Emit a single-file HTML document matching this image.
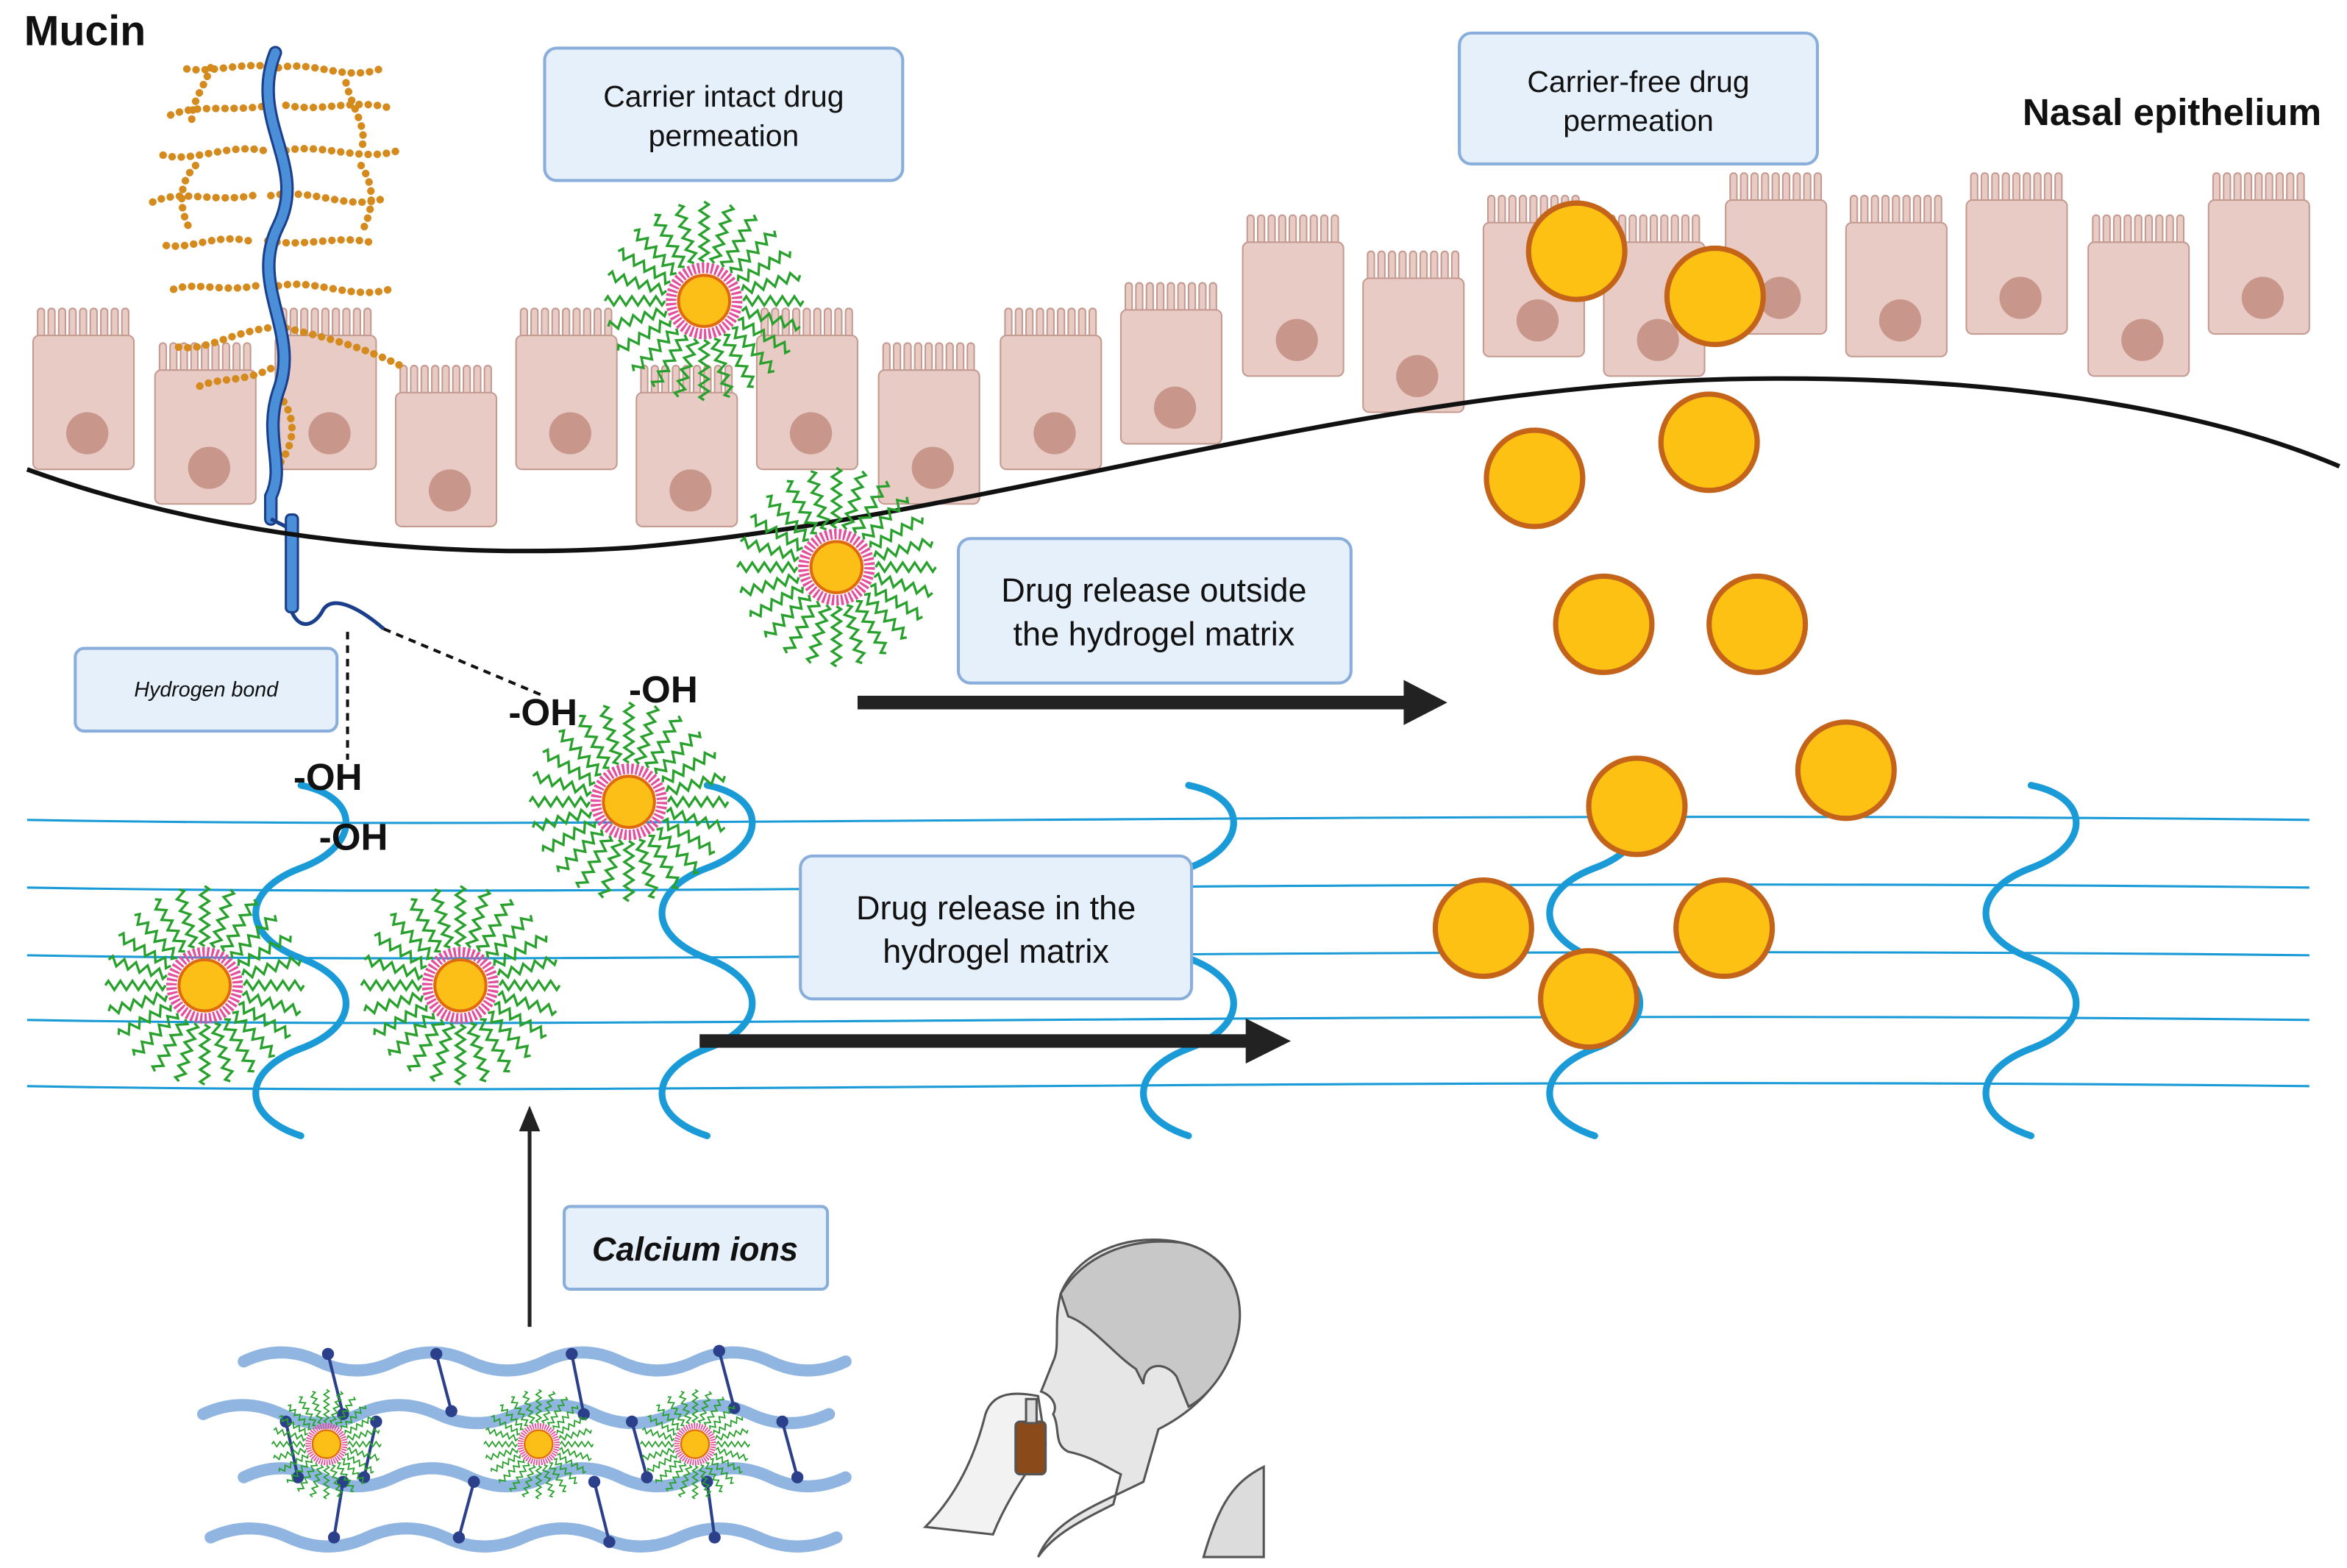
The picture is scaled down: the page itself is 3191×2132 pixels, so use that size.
<!DOCTYPE html>
<html><head><meta charset="utf-8"><style>
html,body{margin:0;padding:0;background:#fff}
svg{display:block}
text{font-family:"Liberation Sans",sans-serif}
</style></head><body>
<svg width="3191" height="2132" viewBox="0 0 1560 1042.3" xmlns="http://www.w3.org/2000/svg">
<defs>
<g id="cell">
 <g fill="#e8cbc4" stroke="#c49a90" stroke-width="1">
  <rect x="3" y="0" width="4.5" height="24" rx="2.2"/><rect x="10" y="0" width="4.5" height="24" rx="2.2"/><rect x="17" y="0" width="4.5" height="24" rx="2.2"/><rect x="24" y="0" width="4.5" height="24" rx="2.2"/><rect x="31" y="0" width="4.5" height="24" rx="2.2"/><rect x="38" y="0" width="4.5" height="24" rx="2.2"/><rect x="45" y="0" width="4.5" height="24" rx="2.2"/><rect x="52" y="0" width="4.5" height="24" rx="2.2"/><rect x="59" y="0" width="4.5" height="24" rx="2.2"/>
  <rect x="0" y="18" width="67" height="89" rx="4"/>
 </g>
 <circle cx="36" cy="83" r="14" fill="#c8968a"/>
</g>
<path id="spk" d="M26,0 l2,-3 l4,6 l4,-6 l4,6 l4,-6 l4,6 l4,-6 l4,6 l4,-6 l4,6 l2,-3" fill="none" stroke="#28a12c" stroke-width="1.6"/>
<g id="mic">
 <use href="#spk"/><use href="#spk" transform="rotate(15)"/><use href="#spk" transform="rotate(30)"/><use href="#spk" transform="rotate(45)"/><use href="#spk" transform="rotate(60)"/><use href="#spk" transform="rotate(75)"/><use href="#spk" transform="rotate(90)"/><use href="#spk" transform="rotate(105)"/><use href="#spk" transform="rotate(120)"/><use href="#spk" transform="rotate(135)"/><use href="#spk" transform="rotate(150)"/><use href="#spk" transform="rotate(165)"/><use href="#spk" transform="rotate(180)"/><use href="#spk" transform="rotate(195)"/><use href="#spk" transform="rotate(210)"/><use href="#spk" transform="rotate(225)"/><use href="#spk" transform="rotate(240)"/><use href="#spk" transform="rotate(255)"/><use href="#spk" transform="rotate(270)"/><use href="#spk" transform="rotate(285)"/><use href="#spk" transform="rotate(300)"/><use href="#spk" transform="rotate(315)"/><use href="#spk" transform="rotate(330)"/><use href="#spk" transform="rotate(345)"/>
 <circle r="22" fill="none" stroke="#e3509e" stroke-width="7" stroke-dasharray="1.6 1.4"/>
 <circle r="17" fill="#fbbf17" stroke="#e06a10" stroke-width="2"/>
</g>
<path id="sq" d="M0,0 c40,8 40,40 0,55 s-40,45 0,60 s40,45 0,60 s-40,45 0,58" fill="none" stroke="#1a9bd7" stroke-width="4.5" stroke-linecap="round"/>
<circle id="drug" r="32" fill="#fdc114" stroke="#c4641a" stroke-width="3.5"/>
</defs>

<use href="#cell" x="22" y="205"/><use href="#cell" x="103" y="228"/><use href="#cell" x="183" y="205"/><use href="#cell" x="263" y="243"/>
<use href="#cell" x="343" y="205"/><use href="#cell" x="423" y="243"/><use href="#cell" x="503" y="205"/><use href="#cell" x="584" y="228"/>
<use href="#cell" x="665" y="205"/><use href="#cell" x="745" y="188"/><use href="#cell" x="826" y="143"/><use href="#cell" x="906" y="167"/>
<use href="#cell" x="986" y="130"/><use href="#cell" x="1066" y="143"/><use href="#cell" x="1147" y="115"/><use href="#cell" x="1227" y="130"/>
<use href="#cell" x="1307" y="115"/><use href="#cell" x="1388" y="143"/><use href="#cell" x="1468" y="115"/>

<g fill="none" stroke="#d48a1c" stroke-width="5" stroke-linecap="round" stroke-dasharray="0.1 6">
 <path d="M185,45 C160,40 140,50 120,45"/><path d="M185,45 C210,40 230,55 255,45"/>
 <path d="M180,70 C150,75 130,68 110,78"/><path d="M190,70 C215,75 235,65 260,72"/>
 <path d="M175,100 C150,95 125,110 105,102"/><path d="M190,100 C215,95 240,108 265,100"/>
 <path d="M168,130 C140,135 120,125 100,135"/><path d="M180,130 C210,125 230,140 255,132"/>
 <path d="M165,160 C140,155 125,168 105,162"/><path d="M178,160 C205,165 225,155 250,162"/>
 <path d="M170,190 C145,195 125,185 110,195"/><path d="M185,190 C210,185 235,200 260,192"/>
 <path d="M178,218 C150,222 135,235 115,230"/><path d="M190,218 C220,225 245,232 270,245"/>
 <path d="M180,245 C160,255 145,250 130,258"/><path d="M185,262 C200,280 195,300 180,315"/>
 <path d="M140,45 C135,60 125,70 128,85"/><path d="M230,55 C235,75 245,85 240,100"/>
 <path d="M130,110 C120,120 118,135 125,150"/><path d="M240,110 C250,125 248,140 240,155"/>
</g>
<path d="M183,35 C165,80 205,110 185,150 C165,190 200,220 185,260 C175,290 190,310 180,330 L180,345" fill="none" stroke="#1b3f8a" stroke-width="9" stroke-linecap="round"/>
<path d="M183,35 C165,80 205,110 185,150 C165,190 200,220 185,260 C175,290 190,310 180,330 L180,345" fill="none" stroke="#4a8fd8" stroke-width="6" stroke-linecap="round"/>
<rect x="190" y="342" width="8" height="65" rx="3" fill="#4a8fd8" stroke="#1b3f8a" stroke-width="1.5"/>
<path d="M180,345 L190,350 M194,407 C200,420 210,415 215,405 C222,395 240,405 255,418" fill="none" stroke="#1b3f8a" stroke-width="2.5"/>

<path d="M18,312 C150,360 300,372 420,364 C650,345 900,258 1150,252 C1350,248 1480,278 1555,310" fill="none" stroke="#111" stroke-width="3"/>

<g fill="none" stroke="#1a9bd7" stroke-width="1.5">
 <path d="M18,545 C400,552 900,538 1535,545"/>
 <path d="M18,590 C400,597 900,583 1535,590"/>
 <path d="M18,635 C400,642 900,628 1535,635"/>
 <path d="M18,678 C400,685 900,671 1535,678"/>
 <path d="M18,722 C400,729 900,715 1535,722"/>
</g>
<use href="#sq" x="200" y="522"/><use href="#sq" x="470" y="522"/><use href="#sq" x="790" y="522"/><use href="#sq" x="1060" y="522"/><use href="#sq" x="1350" y="522"/>

<path d="M231,420 L231,505 M255,418 L360,462" stroke="#111" stroke-width="2" stroke-dasharray="5 4" fill="none"/>

<use href="#mic" x="468" y="200"/><use href="#mic" x="556" y="377"/><use href="#mic" x="418" y="533"/><use href="#mic" x="136" y="655"/><use href="#mic" x="306" y="655"/>

<use href="#drug" x="1048" y="167"/><use href="#drug" x="1140" y="197"/><use href="#drug" x="1020" y="318"/><use href="#drug" x="1136" y="294"/>
<use href="#drug" x="1066" y="415"/><use href="#drug" x="1168" y="415"/><use href="#drug" x="1227" y="512"/><use href="#drug" x="1088" y="536"/>
<use href="#drug" x="986" y="617"/><use href="#drug" x="1146" y="617"/><use href="#drug" x="1056" y="664"/>

<line x1="570" y1="467" x2="935" y2="467" stroke="#222" stroke-width="9"/><polygon points="933,452 962,467 933,482" fill="#222"/>
<line x1="465" y1="692" x2="830" y2="692" stroke="#222" stroke-width="9"/><polygon points="828,677 858,692 828,707" fill="#222"/>
<line x1="352" y1="882" x2="352" y2="750" stroke="#222" stroke-width="2.5"/><polygon points="345,752 352,735 359,752" fill="#222"/>

<g fill="#e6f0fa" stroke="#8aaedb" stroke-width="2">
 <rect x="362" y="32" width="238" height="88" rx="8"/>
 <rect x="970" y="22" width="238" height="87" rx="8"/>
 <rect x="637" y="358" width="261" height="96" rx="8"/>
 <rect x="532" y="569" width="260" height="95" rx="8"/>
 <rect x="50" y="431" width="174" height="55" rx="6"/>
 <rect x="375" y="802" width="175" height="55" rx="4"/>
</g>
<g fill="#111" text-anchor="middle">
 <text x="481" y="71" font-size="20">Carrier intact drug</text><text x="481" y="97" font-size="20">permeation</text>
 <text x="1089" y="61" font-size="20">Carrier-free drug</text><text x="1089" y="87" font-size="20">permeation</text>
 <text x="767" y="400" font-size="22">Drug release outside</text><text x="767" y="429" font-size="22">the hydrogel matrix</text>
 <text x="662" y="611" font-size="22">Drug release in the</text><text x="662" y="640" font-size="22">hydrogel matrix</text>
 <text x="137" y="463" font-size="14" font-style="italic">Hydrogen bond</text>
 <text x="462" y="838" font-size="22" font-style="italic" font-weight="bold">Calcium ions</text>
</g>
<g fill="#111" font-weight="bold" font-size="25">
 <text x="16" y="30" font-size="28">Mucin</text>
 <text x="1543" y="83" text-anchor="end" font-size="25">Nasal epithelium</text>
 <text x="195" y="525">-OH</text><text x="212" y="565">-OH</text><text x="338" y="482">-OH</text><text x="418" y="467">-OH</text>
</g>

<g fill="none" stroke="#8fb5e0" stroke-width="8" stroke-linecap="round">
 <path d="M162,905 q25,-12 50,0 t50,0 t50,0 t50,0 t50,0 t50,0 t50,0 t50,0"/>
 <path d="M135,940 q26,-12 52,0 t52,0 t52,0 t52,0 t52,0 t52,0 t52,0 t52,0"/>
 <path d="M162,982 q25,-12 50,0 t50,0 t50,0 t50,0 t50,0 t50,0 t50,0 t50,0"/>
 <path d="M140,1022 q26,-12 52,0 t52,0 t52,0 t52,0 t52,0 t52,0 t52,0 t52,0"/>
</g>
<g stroke="#2b3f8a" stroke-width="2" fill="#2b3f8a">
 <line x1="218" y1="900" x2="228" y2="940"/><line x1="290" y1="900" x2="300" y2="938"/><line x1="380" y1="900" x2="388" y2="940"/><line x1="478" y1="898" x2="488" y2="936"/>
 <line x1="190" y1="945" x2="198" y2="982"/><line x1="250" y1="945" x2="242" y2="982"/><line x1="420" y1="945" x2="430" y2="982"/><line x1="520" y1="945" x2="530" y2="982"/>
 <line x1="228" y1="985" x2="222" y2="1022"/><line x1="315" y1="985" x2="305" y2="1022"/><line x1="395" y1="985" x2="405" y2="1025"/><line x1="470" y1="985" x2="475" y2="1022"/>
 <circle cx="218" cy="900" r="3"/><circle cx="228" cy="940" r="3"/><circle cx="290" cy="900" r="3"/><circle cx="300" cy="938" r="3"/><circle cx="380" cy="900" r="3"/><circle cx="388" cy="940" r="3"/><circle cx="478" cy="898" r="3"/><circle cx="488" cy="936" r="3"/>
 <circle cx="190" cy="945" r="3"/><circle cx="198" cy="982" r="3"/><circle cx="250" cy="945" r="3"/><circle cx="242" cy="982" r="3"/><circle cx="420" cy="945" r="3"/><circle cx="430" cy="982" r="3"/><circle cx="520" cy="945" r="3"/><circle cx="530" cy="982" r="3"/>
 <circle cx="228" cy="985" r="3"/><circle cx="222" cy="1022" r="3"/><circle cx="315" cy="985" r="3"/><circle cx="305" cy="1022" r="3"/><circle cx="395" cy="985" r="3"/><circle cx="405" cy="1025" r="3"/><circle cx="470" cy="985" r="3"/><circle cx="475" cy="1022" r="3"/>
</g>
<use href="#mic" transform="translate(217,960) scale(0.55)"/><use href="#mic" transform="translate(358,960) scale(0.55)"/><use href="#mic" transform="translate(462,960) scale(0.55)"/>

<g stroke="#555" stroke-width="1.5">
 <path d="M690,1035 C700,1010 730,1000 760,985 L770,950 C790,940 815,920 820,890 C830,850 810,830 780,825 C745,820 715,835 705,860 C700,880 705,895 700,905 L692,925 C700,928 703,935 700,940 C705,950 700,960 710,965 C725,968 735,975 745,980 L740,1000 C720,1010 700,1020 690,1035 Z" fill="#e6e6e6"/>
 <path d="M705,860 C720,835 750,822 785,826 C815,832 830,860 822,890 C815,915 800,930 790,935 L782,915 C775,905 760,905 760,920 L755,910 C740,900 725,880 710,875 Z" fill="#c8c8c8"/>
 <path d="M800,1035 C810,1000 820,985 840,975 L840,1035 Z" fill="#dcdcdc"/>
 <path d="M615,1015 C640,990 650,960 655,940 C660,925 675,925 690,928 L695,960 C685,975 670,995 660,1020 Z" fill="#f2f2f2"/>
 <rect x="675" y="945" width="20" height="35" rx="3" fill="#8a4a1a"/>
 <rect x="682" y="930" width="7" height="16" fill="#ddd"/>
</g>
</svg>
</body></html>
